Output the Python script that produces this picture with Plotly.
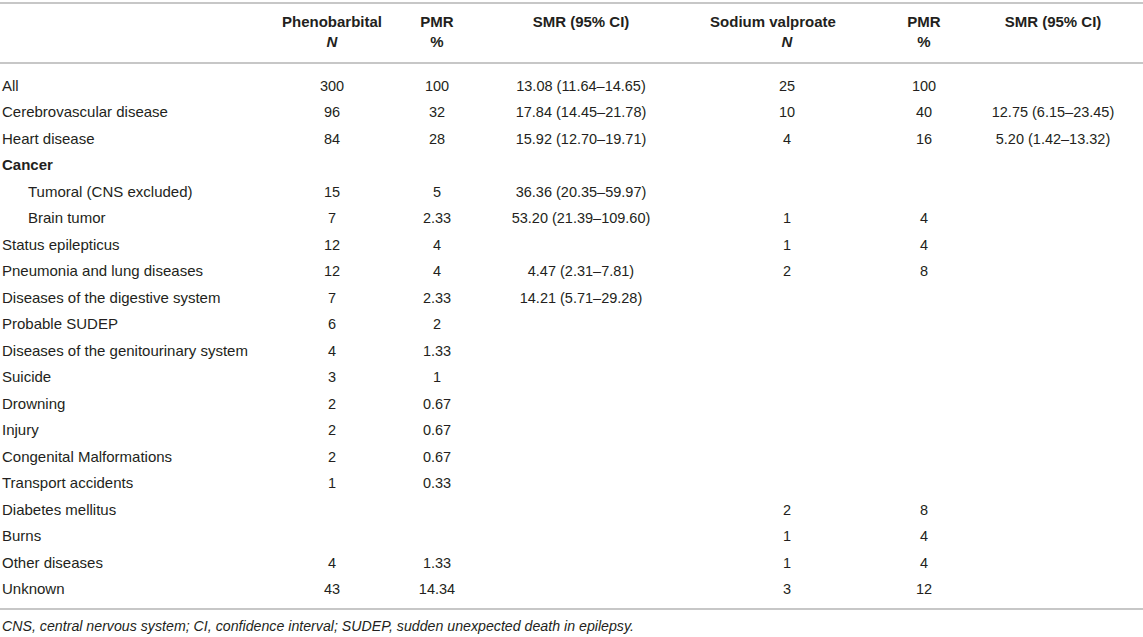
import plotly.graph_objects as go

# Causes of death (rows); indented rows are the Cancer subgroups
causes = [
    "All", "Cerebrovascular disease", "Heart disease", "Cancer",
    "Tumoral (CNS excluded)", "Brain tumor", "Status epilepticus",
    "Pneumonia and lung diseases", "Diseases of the digestive system",
    "Probable SUDEP", "Diseases of the genitourinary system", "Suicide",
    "Drowning", "Injury", "Congenital Malformations", "Transport accidents",
    "Diabetes mellitus", "Burns", "Other diseases", "Unknown",
]
bold_rows = ["Cancer"]
indented_rows = ["Tumoral (CNS excluded)", "Brain tumor"]

# Phenobarbital group
pheno_n = [300, 96, 84, None, 15, 7, 12, 12, 7, 6, 4, 3, 2, 2, 2, 1, None, None, 4, 43]
pheno_pmr = [100, 32, 28, None, 5, 2.33, 4, 4, 2.33, 2, 1.33, 1, 0.67, 0.67, 0.67, 0.33,
             None, None, 1.33, 14.34]
pheno_smr = [13.08, 17.84, 15.92, None, 36.36, 53.20, None, 4.47, 14.21] + [None] * 11
pheno_lo = [11.64, 14.45, 12.70, None, 20.35, 21.39, None, 2.31, 5.71] + [None] * 11
pheno_hi = [14.65, 21.78, 19.71, None, 59.97, 109.60, None, 7.81, 29.28] + [None] * 11

# Sodium valproate group
valp_n = [25, 10, 4, None, None, 1, 1, 2, None, None, None, None, None, None, None, None,
          2, 1, 1, 3]
valp_pmr = [100, 40, 16, None, None, 4, 4, 8, None, None, None, None, None, None, None, None,
            8, 4, 4, 12]
valp_smr = [None, 12.75, 5.20] + [None] * 17
valp_lo = [None, 6.15, 1.42] + [None] * 17
valp_hi = [None, 23.45, 13.32] + [None] * 17

footnote = ("CNS, central nervous system; CI, confidence interval; "
            "SUDEP, sudden unexpected death in epilepsy.")

TEXT = "#231f20"
RULE = "#b4b4b4"
FONT = "Liberation Sans, Arial, sans-serif"
LABEL_SIZE = 15
VALUE_SIZE = 14.5

W, H = 1143, 637
ROW0, ROWH = 87, 26.5  # pixel centre of first row, row pitch


def row_of(px):
    return (px - ROW0) / ROWH


def fmt(v):
    return "" if v is None else f"{v:g}"


def fmt_ci(v, lo, hi):
    return "" if v is None else f"{v:.2f} ({lo:.2f}\u2013{hi:.2f})"


rows = list(range(len(causes)))

# column centres (px), header lines, cell text
columns = [
    (332, "<b>Phenobarbital</b>", "<b><i>N</i></b>", [fmt(v) for v in pheno_n]),
    (437, "<b>PMR</b>", "<b>%</b>", [fmt(v) for v in pheno_pmr]),
    (581, "<b>SMR (95% CI)</b>", "", [fmt_ci(*t) for t in zip(pheno_smr, pheno_lo, pheno_hi)]),
    (787, "<b>Sodium valproate</b>", "<b><i>N</i></b>", [fmt(v) for v in valp_n]),
    (924, "<b>PMR</b>", "<b>%</b>", [fmt(v) for v in valp_pmr]),
    (1053, "<b>SMR (95% CI)</b>", "", [fmt_ci(*t) for t in zip(valp_smr, valp_lo, valp_hi)]),
]
header_x = [332, 437, 581, 773, 924, 1053]

fig = go.Figure()

# row labels
labels = [f"<b>{c}</b>" if c in bold_rows else c for c in causes]
label_x = [28 if c in indented_rows else 2 for c in causes]
fig.add_trace(go.Scatter(
    x=label_x, y=rows, text=labels, mode="text", textposition="middle right",
    textfont=dict(family=FONT, size=LABEL_SIZE, color=TEXT), hoverinfo="skip",
))

# value columns
for cx, h1, h2, vals in columns:
    fig.add_trace(go.Scatter(
        x=[cx] * len(rows), y=rows, text=vals, mode="text", textposition="middle center",
        textfont=dict(family=FONT, size=VALUE_SIZE, color=TEXT), hoverinfo="skip",
    ))

# two-line header
fig.add_trace(go.Scatter(
    x=header_x, y=[row_of(23)] * len(header_x), text=[c[1] for c in columns],
    mode="text", textposition="middle center",
    textfont=dict(family=FONT, size=LABEL_SIZE, color=TEXT), hoverinfo="skip",
))
fig.add_trace(go.Scatter(
    x=[c[0] for c in columns], y=[row_of(43)] * len(columns), text=[c[2] for c in columns],
    mode="text", textposition="middle center",
    textfont=dict(family=FONT, size=LABEL_SIZE, color=TEXT), hoverinfo="skip",
))

# footnote
fig.add_trace(go.Scatter(
    x=[2], y=[row_of(627)], text=[f"<i>{footnote}</i>"], mode="text",
    textposition="middle right",
    textfont=dict(family=FONT, size=14.2, color=TEXT), hoverinfo="skip",
))

# horizontal rules
for py in (3, 63, 609):
    fig.add_shape(type="line", xref="paper", x0=0, x1=1, yref="y",
                  y0=row_of(py), y1=row_of(py), line=dict(color=RULE, width=1.5))

fig.update_layout(
    width=W, height=H,
    margin=dict(l=0, r=0, t=0, b=0),
    paper_bgcolor="white", plot_bgcolor="white",
    showlegend=False,
    xaxis=dict(range=[0, W], visible=False, fixedrange=True),
    yaxis=dict(range=[row_of(H), row_of(0)], visible=False, fixedrange=True),
)

fig.write_html("out.html", config={"displayModeBar": False},
               post_script="document.body.style.margin='0';")
